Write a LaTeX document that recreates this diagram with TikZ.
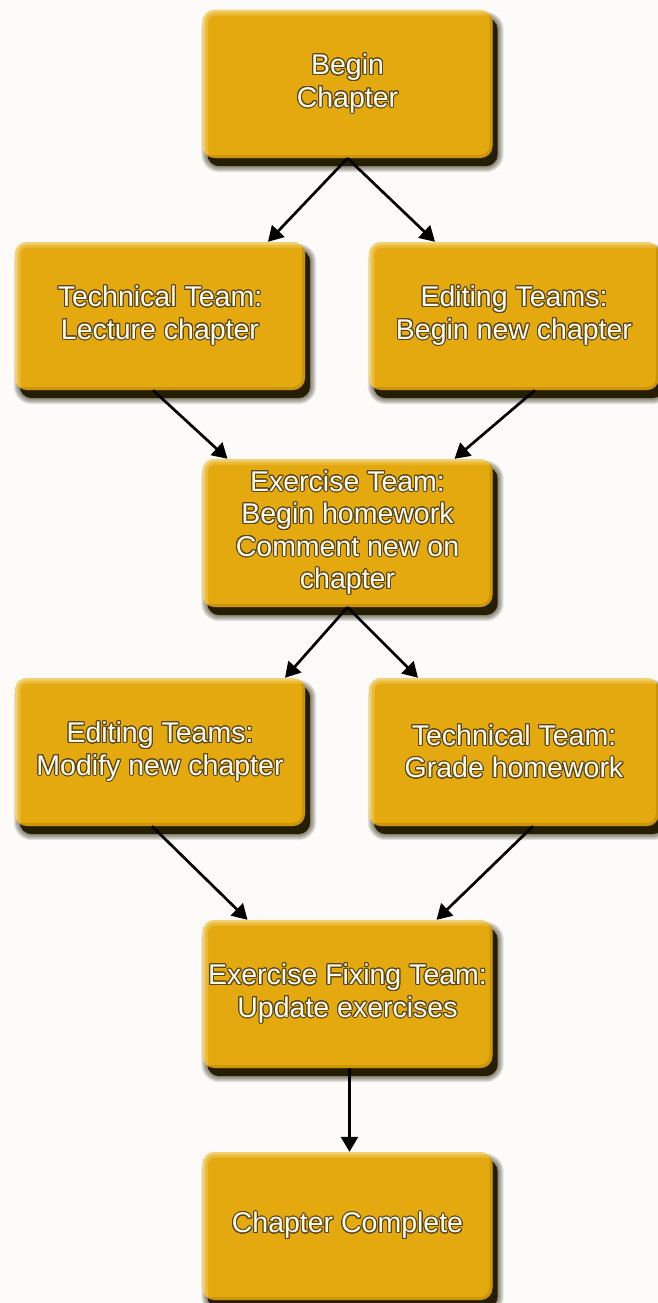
\documentclass[tikz,border=0pt]{standalone}
\usepackage{fontspec}
\setmainfont{Liberation Sans}
\usepackage[copies]{contour}
\usetikzlibrary{arrows.meta}
\definecolor{gold}{HTML}{E4A90E}
\definecolor{goldhl}{HTML}{FBE3A0}
\definecolor{golddk}{HTML}{B07C05}
\definecolor{bgc}{HTML}{FCFBFA}
\definecolor{shdc}{HTML}{261E02}
\definecolor{txtol}{HTML}{5A4510}
\definecolor{txtfg}{HTML}{FFFBF0}
\contourlength{1.0pt}
\contournumber{24}
\newcommand\outl[1]{\contour{txtol}{#1}}
\pgfdeclarelayer{bgl}
\pgfdeclarelayer{shd}
\pgfsetlayers{bgl,shd,main}
\begin{document}
\begin{tikzpicture}[x=1pt,y=-1pt,
  box/.style={rectangle, rounded corners=12pt, minimum width=290pt, minimum height=148pt,
    inner sep=0pt, fill=gold, text=txtfg, align=center,
    font=\fontsize{28.5}{32.5}\selectfont,
    path picture={
      \draw[goldhl, line width=11pt, opacity=.3, rounded corners=12pt]
        (path picture bounding box.south west) -- (path picture bounding box.north west) -- (path picture bounding box.north east);
      \draw[goldhl, line width=5pt, opacity=.55, rounded corners=12pt]
        (path picture bounding box.south west) -- (path picture bounding box.north west) -- (path picture bounding box.north east);
      \draw[golddk, line width=6pt, opacity=.45, rounded corners=12pt]
        (path picture bounding box.north east) -- (path picture bounding box.south east) -- (path picture bounding box.south west);
    }},
  arr/.style={-{Triangle[length=15pt,width=17pt]}, line width=2.7pt, black}]
\begin{pgfonlayer}{bgl}
\fill[bgc] (0,0) rectangle (658,1303);
\end{pgfonlayer}
\useasboundingbox (0,0) rectangle (658,1303);

\node[box] (b1) at (347.5,84) {\outl{Begin}\\\outl{Chapter}};
\node[box] (b2) at (160,316) {\outl{Technical Team:}\\\outl{Lecture chapter}};
\node[box] (b3) at (514,316) {\outl{Editing Teams:}\\\outl{Begin new chapter}};
\node[box] (b4) at (347.5,533) {\outl{Exercise Team:}\\\outl{Begin homework}\\\outl{Comment new on}\\\outl{chapter}};
\node[box] (b5) at (160,752) {\outl{Editing Teams:}\\\outl{Modify new chapter}};
\node[box] (b6) at (514,752) {\outl{Technical Team:}\\\outl{Grade homework}};
\node[box] (b7) at (347.5,994) {\outl{Exercise Fixing Team:}\\\outl{Update exercises}};
\node[box] (b8) at (347.5,1226) {\outl{Chapter Complete}};

\begin{pgfonlayer}{shd}
\foreach \n in {b1,b2,b3,b4,b5,b6,b7,b8}{
  \fill[shdc, rounded corners=12pt] ([xshift=5pt,yshift=-8pt]\n.north west) rectangle ([xshift=5pt,yshift=-8pt]\n.south east);
  \foreach \k in {1,...,6}{
    \pgfmathsetmacro\rr{12+\k}
    \pgfmathsetmacro\ax{5-\k}
    \pgfmathsetmacro\ay{\k-8}
    \pgfmathsetmacro\bx{5+\k}
    \pgfmathsetmacro\by{-8-\k}
    \fill[shdc, opacity=0.11, rounded corners=\rr pt] ([xshift=\ax pt,yshift=\ay pt]\n.north west) rectangle ([xshift=\bx pt,yshift=\by pt]\n.south east);
  }
}
\end{pgfonlayer}

\draw[arr] (b1.south) -- ([xshift=108pt]b2.north);
\draw[arr] (b1.south) -- ([xshift=-79pt]b3.north);
\draw[arr] ([xshift=-7pt]b2.south) -- ([xshift=-120pt]b4.north);
\draw[arr] ([xshift=21pt]b3.south) -- ([xshift=107pt]b4.north);
\draw[arr] (b4.south) -- ([xshift=125pt]b5.north);
\draw[arr] (b4.south) -- ([xshift=-96pt]b6.north);
\draw[arr] ([xshift=-8pt]b5.south) -- ([xshift=-100pt]b7.north);
\draw[arr] ([xshift=19pt]b6.south) -- ([xshift=89pt]b7.north);
\draw[arr] ([xshift=2pt]b7.south) -- ([xshift=2pt]b8.north);
\end{tikzpicture}
\end{document}
